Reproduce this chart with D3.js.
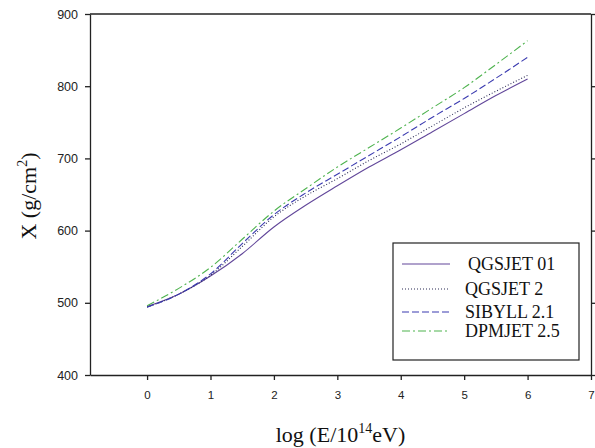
<!DOCTYPE html>
<html>
<head>
<meta charset="utf-8">
<script src="https://cdn.jsdelivr.net/npm/d3@7"></script>
<style>
body{margin:0;background:#fff;}
</style>
</head>
<body>
<div id="chart"></div>
<script>

// data
const logE = [0,0.5,1,1.5,2,2.5,3,3.5,4,4.5,5,5.5,6];
const qgsjet01 = [495,512,537,568,605,635,662,688,712,737,762,787,810];
const qgsjet2  = [494,512,538,578,619,648,672,697,720,745,770,793,815];
const sibyll   = [494,512,540,582,622,652,678,704,730,757,783,811,840];
const dpmjet   = [496,520,549,588,627,658,688,715,742,770,798,830,863];

const seriesNames = ["QGSJET 01","QGSJET 2","SIBYLL 2.1","DPMJET 2.5"];
const xTicks = [0,1,2,3,4,5,6,7];
const yTicks = [400,500,600,700,800,900];

function makeSeries(){
    //pair each series with x values
    let all = [qgsjet01,qgsjet2,sibyll,dpmjet];
    return all.map((vals,i) => ({name:seriesNames[i], points: vals.map((v,j) => ({x:logE[j], y:v}))}));
}

function makeChart(divid,{width=595,height=448}){

    let svg = d3.select(divid).append("svg")
                .attr("width",width)
                .attr("height",height)

    let margin = {left:90,right:4,top:14,bottom:73};

    let xScale = d3.scaleLinear()
                    .domain([-0.9,7])
                    .range([margin.left,width - margin.right]);

    let yScale = d3.scaleLinear()
                    .domain([400,900])
                    .range([height - margin.bottom,margin.top]);

    let styles = [
        {color:'#62479a',dash:null},
        {color:'#2a2a55',dash:'1,2'},
        {color:'#3b3bb0',dash:'7,3'},
        {color:'#4fb34f',dash:'8,3,2,3'}
    ];

//#region axes
    let xAxis = d3.axisBottom(xScale).tickValues(xTicks).tickSize(5).tickSizeOuter(0);
    let yAxis = d3.axisLeft(yScale).tickValues(yTicks).tickSize(5).tickSizeOuter(0);
    let yAxisR = d3.axisRight(yScale).tickValues(yTicks).tickSize(4).tickSizeOuter(0).tickFormat("");

    let gx = svg.append("g").attr("transform","translate(0," + (height - margin.bottom) + ")").call(xAxis);
    let gy = svg.append("g").attr("transform","translate(" + margin.left + ",0)").call(yAxis);
    svg.append("g").attr("transform","translate(" + (width - margin.right) + ",0)").call(yAxisR);

    [gx,gy].forEach(g => {
        g.selectAll("text").attr("font-family","Arial, 'Liberation Sans', sans-serif")
            .attr("fill","#222");
    });
    gx.selectAll("text").attr("font-size",11.5).attr("dy","1.35em");
    gy.selectAll("text").attr("font-size",12.5).attr("x",-12);
    svg.selectAll(".domain, .tick line").attr("stroke","#222").attr("stroke-width",1.3);

    // top border
    svg.append("line")
        .attr("x1",margin.left).attr("x2",width - margin.right)
        .attr("y1",margin.top).attr("y2",margin.top)
        .attr("stroke","#222").attr("stroke-width",1.3);
//#endregion

//#region lines
    let line = d3.line()
                .x(d => xScale(d.x))
                .y(d => yScale(d.y))
                .curve(d3.curveMonotoneX);

    let series = makeSeries();

    svg.selectAll("path.series")
        .data(series)
        .join("path")
        .attr("class","series")
        .attr("d",d => line(d.points))
        .attr("fill","none")
        .attr("stroke",(d,i) => styles[i].color)
        .attr("stroke-width",1.1)
        .attr("stroke-dasharray",(d,i) => styles[i].dash);
//#endregion

//#region legend
    let lg = svg.append("g");
    lg.append("rect")
        .attr("x",393).attr("y",243)
        .attr("width",186).attr("height",117)
        .attr("fill","#fff").attr("stroke","#222").attr("stroke-width",1.2);

    const rowY = [264,289,312,331];

    lg.selectAll("line")
        .data(seriesNames)
        .join("line")
        .attr("x1",402).attr("x2",450)
        .attr("y1",(d,i) => rowY[i]).attr("y2",(d,i) => rowY[i])
        .attr("stroke",(d,i) => styles[i].color)
        .attr("stroke-width",1.1)
        .attr("stroke-dasharray",(d,i) => styles[i].dash);

    lg.selectAll("text")
        .data(seriesNames)
        .join("text")
        .attr("x",(d,i) => i == 0 ? 468 : 465)
        .attr("y",(d,i) => rowY[i])
        .attr("dy","0.35em")
        .attr("font-family","'Liberation Serif', 'Times New Roman', serif")
        .attr("font-size",18)
        .attr("fill","#111")
        .text(d => d);
//#endregion

//#region titles
    let xt = svg.append("text")
        .attr("x",(margin.left + width - margin.right) / 2)
        .attr("y",442)
        .attr("text-anchor","middle")
        .attr("font-family","'Liberation Serif', 'Times New Roman', serif")
        .attr("font-size",22)
        .attr("fill","#111");
    xt.append("tspan").text("log (E/10");
    xt.append("tspan").attr("dy",-9).attr("font-size",14).text("14");
    xt.append("tspan").attr("dy",9).text("eV)");

    let yt = svg.append("text")
        .attr("transform","translate(36,196) rotate(-90)")
        .attr("text-anchor","middle")
        .attr("font-family","'Liberation Serif', 'Times New Roman', serif")
        .attr("font-size",22)
        .attr("fill","#111");
    yt.append("tspan").text("X (g/cm");
    yt.append("tspan").attr("dy",-9).attr("font-size",14).text("2");
    yt.append("tspan").attr("dy",9).text(")");
//#endregion
}

makeChart("#chart",{});

</script>
</body>
</html>
